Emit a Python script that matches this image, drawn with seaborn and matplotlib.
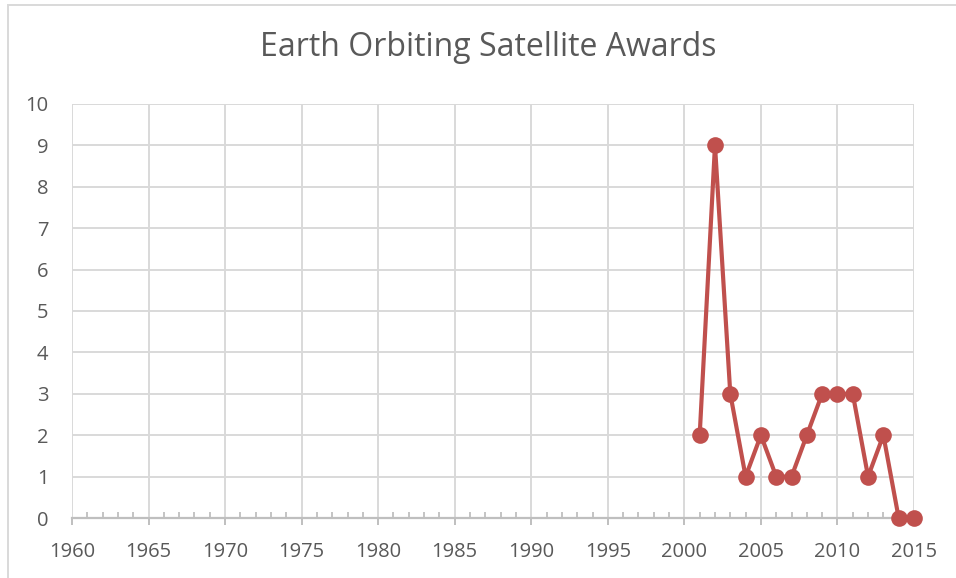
import matplotlib
matplotlib.use("Agg")
import matplotlib.pyplot as plt
from matplotlib.ticker import MultipleLocator
from matplotlib.patches import Rectangle
import seaborn as sns
import pandas as pd

years = [2001, 2002, 2003, 2004, 2005, 2006, 2007, 2008, 2009, 2010, 2011, 2012, 2013, 2014, 2015]
awards = [2, 9, 3, 1, 2, 1, 1, 2, 3, 3, 3, 1, 2, 0, 0]
title = "Earth Orbiting Satellite Awards"

df = pd.DataFrame({"Year": years, "Awards": awards})

sns.set_theme(style="white")
plt.rcParams['font.family'] = ['Open Sans', 'DejaVu Sans']

fig = plt.figure(figsize=(9.56, 5.78), dpi=100)
W, H = 956, 578
ax = fig.add_axes([72 / W, 1 - 518 / H, (914 - 72) / W, (518 - 104) / H])

grid_c = "#D9D9D9"
text_c = "#595959"
red = "#C0504D"

sns.lineplot(data=df, x="Year", y="Awards", ax=ax, color=red, linewidth=3.0,
             marker="o", markersize=12, markeredgewidth=0, clip_on=False, zorder=5)

ax.set_xlim(1960, 2015)
ax.set_ylim(0, 10)
ax.xaxis.set_major_locator(MultipleLocator(5))
ax.xaxis.set_minor_locator(MultipleLocator(1))
ax.yaxis.set_major_locator(MultipleLocator(1))

ax.grid(True, which="major", axis="both", color=grid_c, linewidth=1.4)
ax.set_axisbelow(True)
for s in ["top", "right", "left"]:
    ax.spines[s].set_visible(False)
ax.spines["bottom"].set_color("#BFBFBF")
ax.spines["bottom"].set_linewidth(1.6)

ax.tick_params(axis="x", which="major", direction="out", length=5, width=1.4,
               color="#BFBFBF", labelsize=14.5, labelcolor=text_c, pad=12, bottom=True)
ax.tick_params(axis="x", which="minor", direction="in", length=4, width=1.3,
               color="#BFBFBF", bottom=True)
ax.tick_params(axis="y", which="major", length=0, labelsize=14.5, labelcolor=text_c, pad=17)

ax.set_xlabel("")
ax.set_ylabel("")

fig.text(488 / W, 1 - 48 / H, title, ha="center", va="center", fontsize=23, color=text_c)

fig.patches.append(Rectangle((8 / W, -0.1), 1.2, 1 - 5 / H + 0.1, transform=fig.transFigure,
                             fill=False, edgecolor="#D9D9D9", linewidth=1.4))

fig.savefig("out.png", dpi=100)
